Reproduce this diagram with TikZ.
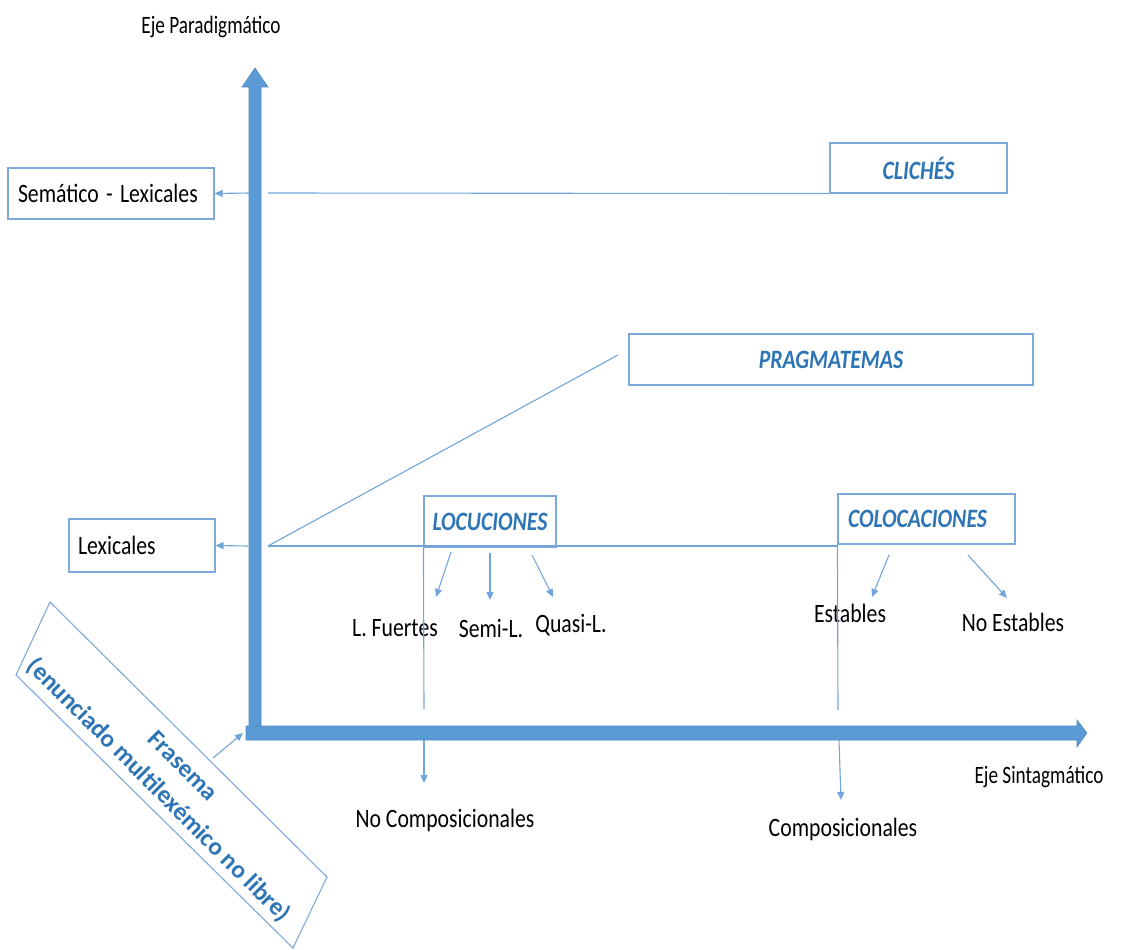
\documentclass[tikz,border=0pt]{standalone}
\usepackage{fontspec}
\setmainfont{Carlito}
\usetikzlibrary{arrows.meta}
\definecolor{axisblue}{HTML}{5B9BD5}
\definecolor{axisedge}{HTML}{4F8BC4}
\definecolor{lineblue}{HTML}{6FA5DB}
\definecolor{boxblue}{HTML}{7DAADB}
\definecolor{labblue}{HTML}{2E75B6}
% horizontally condensed text
\newcommand{\cond}[1]{\scalebox{0.82}[1]{#1}}
\newcommand{\condax}[1]{\scalebox{0.77}[1]{#1}}
\tikzset{
  box/.style={draw=boxblue, line width=1.1pt, inner ysep=0pt, fill=white},
  lbl/.style={font=\fontsize{26.5}{30}\selectfont, text=black, inner sep=0pt},
  axlbl/.style={font=\fontsize{25}{28}\selectfont, text=black, inner sep=0pt},
  blbl/.style={font=\fontsize{26.5}{30}\selectfont\bfseries\itshape, text=labblue},
  conn/.style={draw=lineblue, line width=1.1pt},
  arr/.style={conn, -{Triangle[length=8pt,width=7pt]}},
  axis/.style={fill=axisblue, draw=axisedge, line width=0.6pt}
}
\begin{document}
\begin{tikzpicture}[x=1pt,y=-1pt]
\useasboundingbox (0,0) rectangle (1130,950);

% axes
\fill[axis] (249,727) -- (249,87) -- (242,87) -- (255,68) -- (268,87) -- (261,87) -- (261,727) -- cycle;
\fill[axis] (246,726) -- (1077,726) -- (1077,720) -- (1087,733) -- (1077,747) -- (1077,740) -- (246,740) -- cycle;
\node[axlbl] (ejep) at (211,27) {\condax{Eje Paradigmático}};
\node[axlbl] (ejes) at (1039,777) {\condax{Eje Sintagmático}};

% left-side boxes
\node[box, lbl, inner xsep=10pt, text width=186pt, align=left, minimum height=51pt] (sem) at (111,193.5) {\cond{Semático - Lexicales}};
\node[box, lbl, inner xsep=9pt, text width=128pt, align=left, minimum height=53pt] (lex) at (142,545.5) {\cond{Lexicales}};

% category boxes
\node[box, blbl, minimum width=177pt, minimum height=50pt] (cli) at (918.5,168) {\cond{CLICHÉS}};
\node[box, blbl, minimum width=404pt, minimum height=51pt] (prag) at (831,359.5) {\cond{PRAGMATEMAS}};
\node[box, blbl, minimum width=132pt, minimum height=51pt, inner xsep=0pt] (loc) at (490,521.5) {\cond{LOCUCIONES}};
\node[box, blbl, inner xsep=10pt, text width=157pt, align=left, minimum height=50pt] (col) at (926.5,519) {\cond{COLOCACIONES}};

% anchor points on the vertical axis
\coordinate (a1) at (249,193);
\coordinate (b1) at (268,193);
\coordinate (a2) at (248,546);
\coordinate (b2) at (268,546);
\coordinate (c2) at (838,546);
\coordinate (d2) at (618,355);

\draw[arr] (a1) -- (sem.east);
\draw[conn] (b1) -- (cli.south west);
\draw[arr] (a2) -- (lex.east);
\draw[conn] (b2) -- (c2);
\draw[conn] (b2) -- (d2);

% sub-types of locuciones
\node[lbl] (lf) at (395,628) {\cond{L. Fuertes}};
\node[lbl] (sl) at (491,628) {\cond{Semi-L.}};
\node[lbl] (ql) at (571,625) {\cond{Quasi-L.}};
\coordinate (l1s) at (451,552); \coordinate (l1e) at (436,597);
\coordinate (l2s) at (490,553); \coordinate (l2e) at (490,600);
\coordinate (l3s) at (532,555); \coordinate (l3e) at (553,597);
\draw[arr] (l1s) -- (l1e);
\draw[arr] (l2s) -- (l2e);
\draw[arr] (l3s) -- (l3e);

% sub-types of colocaciones
\node[lbl] (est) at (850,613) {\cond{Estables}};
\node[lbl] (nest) at (1013,622) {\cond{No Estables}};
\coordinate (c1s) at (889,555); \coordinate (c1e) at (872,597);
\coordinate (c2s) at (968,555); \coordinate (c2e) at (1007,598);
\draw[arr] (c1s) -- (c1e);
\draw[arr] (c2s) -- (c2e);

% compositionality
\coordinate (lv1) at (424,709);
\coordinate (lv2) at (424,740);
\coordinate (lv3) at (424,783);
\draw[conn] (loc.south west) -- (lv1);
\draw[arr] (lv2) -- (lv3);
\node[lbl] (nc) at (445,820) {\cond{No Composicionales}};

\coordinate (cv1) at (838,710);
\coordinate (cv2) at (839,740);
\coordinate (cv3) at (841,800);
\draw[conn] (col.south west) -- (cv1);
\draw[arr] (cv2) -- (cv3);
\node[lbl] (comp) at (843,829) {\cond{Composicionales}};

% frasema
\draw[draw=boxblue, line width=1.1pt] (50,602) -- (327,877) -- (293,948) -- (16,675) -- cycle;
\node[rotate=-45, align=center, font=\fontsize{25}{34}\selectfont\bfseries, text=labblue, inner sep=0pt] (fras) at (170,779) {Frasema\\(enunciado multilexémico no libre)};
\coordinate (fa) at (213,758);
\coordinate (fb) at (243,733);
\draw[arr] (fa) -- (fb);
\end{tikzpicture}
\end{document}
